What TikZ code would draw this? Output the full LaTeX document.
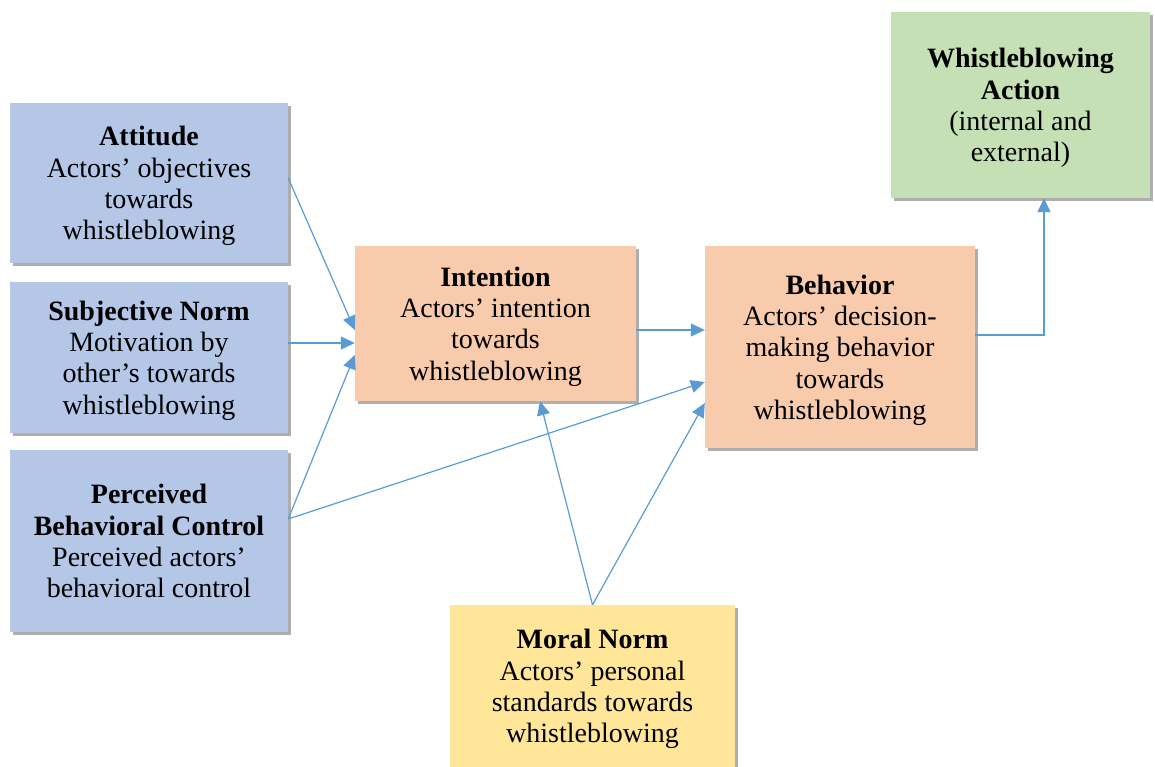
\documentclass[tikz,border=0pt]{standalone}
\usepackage{fontspec}
\setmainfont{Liberation Serif}
\usepackage{xcolor}
\usetikzlibrary{arrows.meta,shadows,positioning}

\definecolor{attblue}{HTML}{B4C7E7}
\definecolor{intorange}{HTML}{F8CBAD}
\definecolor{actgreen}{HTML}{C5E0B4}
\definecolor{moryellow}{HTML}{FFE699}
\definecolor{linkblue}{HTML}{5B9BD5}

\tikzset{
    box/.style={rectangle, align=center, inner sep=0pt, text depth=-2pt,
        font=\fontsize{28}{31.3}\selectfont,
        drop shadow={shadow xshift=3pt, shadow yshift=-3pt, opacity=0.45, fill=black!70}},
    link/.style={draw=linkblue, line width=1.2pt, -{Triangle[length=14pt,width=13pt]}}
}

\begin{document}
\begin{tikzpicture}[x=1pt, y=-1pt]
    \useasboundingbox (0,0) rectangle (1155,767);

    % Theory of planned behaviour factors (left column)
    \node[box, fill=attblue, minimum width=278pt, minimum height=160pt] (att) at (149,183)
        {\textbf{Attitude}\\Actors' objectives\\towards\\whistleblowing};
    \node[box, fill=attblue, minimum width=278pt, minimum height=151pt] (sub) at (149,357.5)
        {\textbf{Subjective Norm}\\Motivation by\\other's towards\\whistleblowing};
    \node[box, fill=attblue, minimum width=278pt, minimum height=182pt] (pbc) at (149,541)
        {\textbf{Perceived}\\\textbf{Behavioral Control}\\Perceived actors'\\behavioral control};

    % Intention and behavior
    \node[box, fill=intorange, minimum width=281pt, minimum height=155pt] (int) at (495.5,323.5)
        {\textbf{Intention}\\Actors' intention\\towards\\whistleblowing};
    \node[box, fill=intorange, minimum width=270pt, minimum height=202pt] (beh) at (840,347)
        {\textbf{Behavior}\\Actors' decision-\\making behavior\\towards\\whistleblowing};

    % Outcome
    \node[box, fill=actgreen, minimum width=259pt, minimum height=186pt] (act) at (1020.5,105)
        {\textbf{Whistleblowing}\\\textbf{Action}\\(internal and\\external)};

    % Moral norm (bottom)
    \node[box, fill=moryellow, minimum width=285pt, minimum height=162pt] (mor) at (592.5,686)
        {\textbf{Moral Norm}\\Actors' personal\\standards towards\\whistleblowing};

    % Links
    \draw[link] ([yshift=5pt]att.east) -- ([yshift=-6.5pt]int.west);
    \draw[link] ([yshift=14.5pt]sub.east) -- ([yshift=-19.5pt]int.west);
    \draw[link] ([yshift=22pt]pbc.east) -- ([yshift=-31.5pt]int.west);
    \draw[link] ([yshift=22pt]pbc.east) -- ([yshift=-35pt]beh.west);
    \draw[link] ([yshift=-6.5pt]int.east) -- ([yshift=-6.5pt]int.east -| beh.west);
    \draw[link] ([yshift=12pt]beh.east) -| ([xshift=23.5pt]act.south);
    \draw[link] (mor.north) -- ([xshift=44.5pt]int.south);
    \draw[link] (mor.north) -- ([yshift=-56pt]beh.west);
\end{tikzpicture}
\end{document}
